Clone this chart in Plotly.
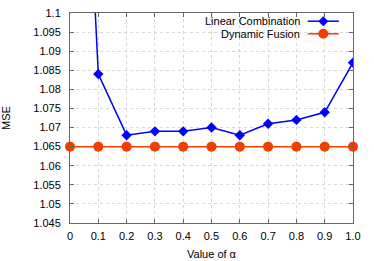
import plotly.graph_objects as go

alpha = [0, 0.1, 0.2, 0.3, 0.4, 0.5, 0.6, 0.7, 0.8, 0.9, 1.0]
linear_comb = [1.235, 1.084, 1.068, 1.069, 1.069, 1.070, 1.068, 1.071, 1.072, 1.074, 1.087]
dynamic_fusion = [1.065] * 11
x_ticks = [0, 0.1, 0.2, 0.3, 0.4, 0.5, 0.6, 0.7, 0.8, 0.9, 1.0]
x_tick_labels = ["0", "0.1", "0.2", "0.3", "0.4", "0.5", "0.6", "0.7", "0.8", "0.9", "1.0"]
y_ticks = [1.045, 1.05, 1.055, 1.06, 1.065, 1.07, 1.075, 1.08, 1.085, 1.09, 1.095, 1.1]
y_tick_labels = ["1.045", "1.05", "1.055", "1.06", "1.065", "1.07", "1.075", "1.08", "1.085", "1.09", "1.095", "1.1"]
series_names = ["Linear Combination", "Dynamic Fusion"]

BLUE = "#0000ff"
ORANGE = "#f04000"
FONT = "Liberation Sans, Arial, sans-serif"

fig = go.Figure()
fig.add_trace(go.Scatter(
    x=alpha, y=linear_comb, mode="lines+markers", name=series_names[0],
    line=dict(color=BLUE, width=1.5),
    marker=dict(symbol="diamond", size=8, color=BLUE),
    cliponaxis=True, showlegend=False,
))
fig.add_trace(go.Scatter(
    x=alpha, y=dynamic_fusion, mode="lines+markers", name=series_names[1],
    line=dict(color=ORANGE, width=1.5),
    marker=dict(symbol="circle", size=10, color=ORANGE),
    cliponaxis=False, showlegend=False,
))

axis_common = dict(
    showline=True, linecolor="#666666", linewidth=1, mirror="ticks",
    ticks="inside", ticklen=4, tickcolor="#666666",
    showgrid=True, gridcolor="#d8d8d8", griddash="dot", gridwidth=1,
    zeroline=False, automargin=False,
    tickfont=dict(family=FONT, size=11, color="#000000"),
)

fig.update_xaxes(
    range=[0, 1.0], tickvals=x_ticks, ticktext=x_tick_labels,
    ticklabelstandoff=3,
    title=dict(text="Value of α", font=dict(size=11, color="#000000"), standoff=9),
    **axis_common,
)
fig.update_yaxes(
    range=[1.045, 1.1], tickvals=y_ticks, ticktext=y_tick_labels,
    ticklabelstandoff=6,
    title=dict(text="MSE", font=dict(size=11, color="#000000"), standoff=23),
    **axis_common,
)

# Legend drawn manually (text right-aligned, sample to the right), gnuplot style
shapes = [
    dict(type="rect", xref="paper", yref="paper", x0=0.37, x1=0.975, y0=0.86, y1=0.995,
         fillcolor="white", line=dict(width=0), layer="between"),
]
annotations = []
rows = [(0.961, BLUE, "diamond", series_names[0]), (0.901, ORANGE, "circle", series_names[1])]
for ypos, col, sym, name in rows:
    annotations.append(dict(
        xref="paper", yref="paper", x=0.818, y=ypos, xanchor="right", yanchor="middle",
        text=name, showarrow=False, font=dict(family=FONT, size=11, color="#000000"),
        borderpad=0,
    ))
    shapes.append(dict(type="line", xref="paper", yref="paper", x0=0.84, x1=0.95,
                       y0=ypos, y1=ypos, line=dict(color=col, width=1.5), layer="above"))
    if sym == "diamond":
        shapes.append(dict(type="path", xref="paper", yref="paper",
                           xsizemode="pixel", ysizemode="pixel", xanchor=0.895, yanchor=ypos,
                           path="M -5 0 L 0 5 L 5 0 L 0 -5 Z",
                           fillcolor=col, line=dict(width=0), layer="above"))
    else:
        shapes.append(dict(type="circle", xref="paper", yref="paper",
                           xsizemode="pixel", ysizemode="pixel", xanchor=0.895, yanchor=ypos,
                           x0=-5, x1=5, y0=-5, y1=5,
                           fillcolor=col, line=dict(width=0), layer="above"))

fig.update_layout(
    width=374, height=261,
    margin=dict(l=70, r=21, t=13, b=38),
    plot_bgcolor="white", paper_bgcolor="white",
    font=dict(family=FONT, size=11, color="#000000"),
    showlegend=False,
    shapes=shapes,
    annotations=annotations,
)

fig.write_html(
    "out.html",
    config={"displayModeBar": False, "staticPlot": True},
    post_script="document.body.style.margin='0';document.body.style.overflow='hidden';",
)
